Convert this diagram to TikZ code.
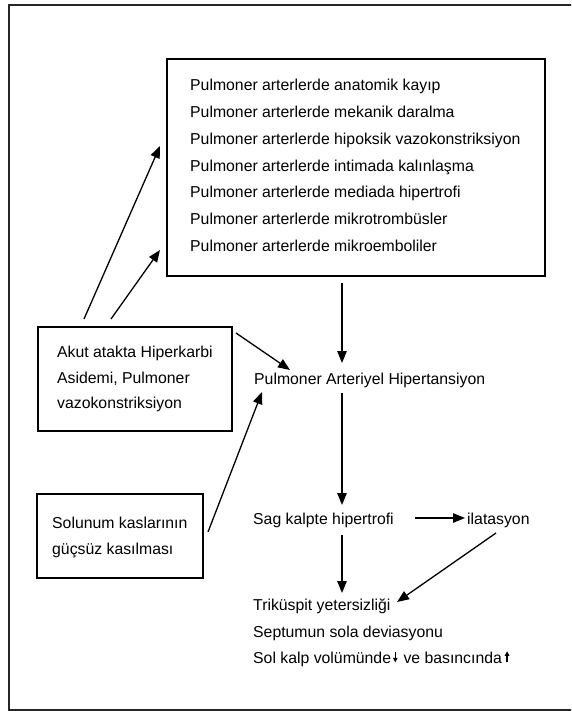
\documentclass[tikz,border=0pt]{standalone}
\usepackage{fontspec}
\setmainfont{Liberation Sans}
\usetikzlibrary{arrows.meta,calc}
\begin{document}
\begin{tikzpicture}[x=1pt,y=-1pt,
  txt/.style={anchor=base west, inner sep=0pt, font=\fontsize{15.8}{19}\selectfont},
  boxst/.style={draw, line width=1.3pt, inner sep=0pt},
  arr/.style={line width=1.3pt, -{Triangle[length=12pt,width=9.5pt]}},
  tinyarr/.style={line width=1.2pt, -{Triangle[length=4.5pt,width=4.5pt]}}]
\clip (0,0) rectangle (571,711);
\fill[white] (0,0) rectangle (571,711);
% outer frame (right side beyond the picture)
\draw[line width=1.2pt, draw=black!85] (640,5) -- (9,5) -- (9,710) -- (640,710);

% boxes
\node[boxst, minimum width=378pt, minimum height=217pt] (topbox) at (356,167.5) {};
\node[boxst, minimum width=194pt, minimum height=104pt] (akut) at (135,379) {};
\node[boxst, minimum width=166pt, minimum height=84pt] (solunum) at (120,536) {};

% top box text
\node[txt] (t1) at (190,90.7) {Pulmoner arterlerde anatomik kayıp};
\node[txt] (t2) at (190,117.5) {Pulmoner arterlerde mekanik daralma};
\node[txt] (t3) at (190,144.3) {Pulmoner arterlerde hipoksik vazokonstriksiyon};
\node[txt] (t4) at (190,171.2) {Pulmoner arterlerde intimada kalınlaşma};
\node[txt] (t5) at (190,198.0) {Pulmoner arterlerde mediada hipertrofi};
\node[txt] (t6) at (190,224.8) {Pulmoner arterlerde mikrotrombüsler};
\node[txt] (t7) at (190,251.7) {Pulmoner arterlerde mikroemboliler};

% left boxes text
\node[txt] (k1) at (57,357.5) {Akut atakta Hiperkarbi};
\node[txt] (k2) at (57,383) {Asidemi, Pulmoner};
\node[txt] (k3) at (57,408.5) {vazokonstriksiyon};
\node[txt] (s1) at (52,528.3) {Solunum kaslarının};
\node[txt] (s2) at (52,554) {güçsüz kasılması};

% central texts
\node[txt] (pah) at (254,384) {Pulmoner Arteriyel Hipertansiyon};
\node[txt] (sag) at (253,524.3) {Sag kalpte hipertrofi};
\node[txt] (dil) at (467,524.3) {ilatasyon};
\node[txt] (tri) at (253,610.7) {Triküspit yetersizliği};
\node[txt] (sep) at (253,637) {Septumun sola deviasyonu};
\node[txt] (sol1) at (253,663.3) {Sol kalp volümünde};
\node[txt] (sol2) at ($(sol1.base east)+(12,0)$) {ve basıncında};

% connector end points
\coordinate (a1s) at (342,283);  \coordinate (a1e) at (342,363);
\coordinate (a2s) at (84,319);   \coordinate (a2e) at (160,146);
\coordinate (a3s) at (111,319);  \coordinate (a3e) at (160,250);
\coordinate (a4s) at (236,333);  \coordinate (a4e) at (290,370);
\coordinate (a5s) at (208,532);  \coordinate (a5e) at (262,392);
\coordinate (a6s) at (342,393);  \coordinate (a6e) at (342,505);
\coordinate (a7s) at (415,518);  \coordinate (a7e) at (465,518);
\coordinate (a8s) at (342,535);  \coordinate (a8e) at (342,593);
\coordinate (a9s) at (496,533);  \coordinate (a9e) at (397,602);

\draw[arr] (a1s) -- (a1e);
\draw[arr] (a2s) -- (a2e);
\draw[arr] (a3s) -- (a3e);
\draw[arr] (a4s) -- (a4e);
\draw[arr] (a5s) -- (a5e);
\draw[arr] (a6s) -- (a6e);
\draw[arr] (a7s) -- (a7e);
\draw[arr] (a8s) -- (a8e);
\draw[arr] (a9s) -- (a9e);

% small arrows in the last line
\coordinate (dn1) at ($(sol1.base east)+(4,-11)$);
\coordinate (dn2) at ($(sol1.base east)+(4,-1)$);
\coordinate (up1) at ($(sol2.base east)+(5,-1)$);
\coordinate (up2) at ($(sol2.base east)+(5,-12)$);
\draw[tinyarr] (dn1) -- (dn2);
\draw[tinyarr] (up1) -- (up2);
\end{tikzpicture}
\end{document}
